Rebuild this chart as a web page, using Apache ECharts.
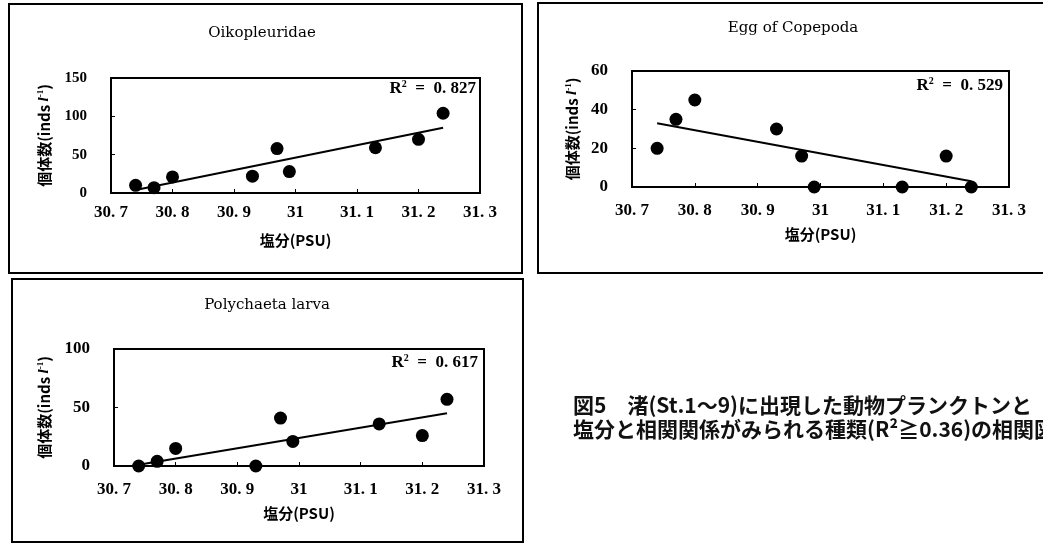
<!DOCTYPE html>
<html>
<head>
<meta charset="utf-8">
<script src="https://cdn.jsdelivr.net/npm/echarts@6/dist/echarts.min.js"></script>
<style>
  html, body { margin: 0; padding: 0; background: #fff; }
  #chart { width: 1043px; height: 545px; }
</style>
</head>
<body>
<div id="chart"></div>
<script>
// Salinity at stations St.1–9 and abundance of each taxon (inds/l)
const salinity = [30.74, 30.77, 30.80, 30.93, 30.97, 30.99, 31.13, 31.20, 31.24];
const oikopleuridae = [10, 7, 21, 22, 58, 28, 59, 70, 104];
const eggCopepoda = [20, 35, 45, 30, 16, 0, 0, 16, 0];
const polychaetaLarva = [0, 4, 15, 0, 41, 21, 36, 26, 57];

// Regression line end points
const trendX = [30.74, 31.24];
const oikoTrend = [4, 85];
const eggTrend = [33, 3];
const polyTrend = [1, 45];

const xTickLabels = ['30. 7', '30. 8', '30. 9', '31', '31. 1', '31. 2', '31. 3'];
const panelTitles = ['Oikopleuridae', 'Egg of Copepoda', 'Polychaeta larva'];
const r2Labels = ['0. 827', '0. 529', '0. 617'];
const yMax = [150, 60, 100];
const yStep = [50, 20, 50];

const SERIF = "'Liberation Serif', 'DejaVu Serif', serif";
const CJK = "'Noto Sans CJK JP', 'Noto Sans', sans-serif";

function pairs(xs, ys) { return xs.map((x, i) => [x, ys[i]]); }

const grids = [
  { left: 111, top: 78, width: 369, height: 115 },
  { left: 632, top: 71, width: 377, height: 116 },
  { left: 114, top: 349, width: 370, height: 117 }
];
const yNameGap = [58, 51, 61];
const yLabelSize = [15, 17, 17];

const xAxes = grids.map((g, i) => ({
  gridIndex: i, type: 'value', min: 30.7, max: 31.3, interval: 0.1,
  axisLine: { lineStyle: { color: '#000', width: 2 } },
  axisTick: { inside: true, length: 4, lineStyle: { color: '#000', width: 1 } },
  splitLine: { show: false },
  axisLabel: {
    margin: i === 0 ? 11 : 15, color: '#000', fontFamily: SERIF, fontWeight: 'bold', fontSize: 17,
    formatter: v => xTickLabels[Math.round((v - 30.7) / 0.1)]
  },
  name: '塩分(PSU)', nameLocation: 'middle', nameGap: 40,
  nameTextStyle: { color: '#000', fontFamily: CJK, fontWeight: 'bold', fontSize: 15 }
}));

const yAxes = grids.map((g, i) => ({
  gridIndex: i, type: 'value', min: 0, max: yMax[i], interval: yStep[i],
  axisLine: { lineStyle: { color: '#000', width: 2 } },
  axisTick: { inside: true, length: 4, lineStyle: { color: '#000', width: 1 } },
  splitLine: { show: false },
  axisLabel: { margin: 24, color: '#000', fontFamily: SERIF, fontWeight: 'bold', fontSize: yLabelSize[i] },
  name: '個体数(inds {i|l}{sup|-1})', nameLocation: 'middle', nameGap: yNameGap[i],
  nameTextStyle: {
    color: '#000', fontFamily: CJK, fontWeight: 'bold', fontSize: 15,
    rich: {
      i: { fontFamily: SERIF, fontStyle: 'italic', fontWeight: 'bold', fontSize: 15, color: '#000' },
      sup: { fontFamily: SERIF, fontWeight: 'bold', fontSize: 9, color: '#000', verticalAlign: 'top', padding: [0, 0, 8, 0] }
    }
  }
}));

const datasets = [oikopleuridae, eggCopepoda, polychaetaLarva];
const trends = [oikoTrend, eggTrend, polyTrend];
const series = [];
datasets.forEach((vals, i) => {
  series.push({
    type: 'scatter', xAxisIndex: i, yAxisIndex: i, symbolSize: 13,
    itemStyle: { color: '#000', opacity: 1 }, data: pairs(salinity, vals)
  });
  series.push({
    type: 'line', xAxisIndex: i, yAxisIndex: i, showSymbol: false,
    lineStyle: { color: '#000', width: 2 }, data: pairs(trendX, trends[i])
  });
});

// Panel frames, titles, R² labels and figure caption
const frames = [
  { x: 9, y: 4, width: 513, height: 269 },
  { x: 538, y: 3, width: 520, height: 270 },
  { x: 12, y: 279, width: 511, height: 263 }
];
const titlePos = [[262, 33], [793, 28], [267, 305]];
const r2Pos = [[476, 89], [1003, 86], [478, 363]];

const graphic = [];
frames.forEach(f => graphic.push({
  type: 'rect', shape: f, silent: true,
  style: { fill: 'none', stroke: '#000', lineWidth: 2 }
}));
panelTitles.forEach((t, i) => graphic.push({
  type: 'text', x: titlePos[i][0], y: titlePos[i][1],
  style: { text: t, fill: '#000', fontFamily: "'DejaVu Serif', serif", fontSize: 15, align: 'center', verticalAlign: 'middle' }
}));
r2Labels.forEach((t, i) => graphic.push({
  type: 'text', x: r2Pos[i][0], y: r2Pos[i][1],
  style: {
    text: 'R{sup|2}  =  ' + t, fill: '#000', fontFamily: SERIF, fontWeight: 'bold', fontSize: 17,
    align: 'right', verticalAlign: 'middle',
    rich: { sup: { fontFamily: SERIF, fontWeight: 'bold', fontSize: 10, fill: '#000', padding: [0, 0, 9, 0] } }
  }
}));
graphic.push({
  type: 'text', x: 573, y: 405,
  style: { text: '図5　渚(St.1～9)に出現した動物プランクトンと', fill: '#111', fontFamily: CJK, fontWeight: 'bold', fontSize: 21, align: 'left', verticalAlign: 'middle' }
});
graphic.push({
  type: 'text', x: 573, y: 429,
  style: { text: '塩分と相関関係がみられる種類(R²≧0.36)の相関図', fill: '#111', fontFamily: CJK, fontWeight: 'bold', fontSize: 21, align: 'left', verticalAlign: 'middle' }
});

const chart = echarts.init(document.getElementById('chart'), null, { renderer: 'canvas' });
chart.setOption({
  animation: false,
  backgroundColor: '#fff',
  grid: grids.map(g => Object.assign({ show: true, borderColor: '#000', borderWidth: 2, backgroundColor: 'transparent' }, g)),
  xAxis: xAxes,
  yAxis: yAxes,
  series: series,
  graphic: graphic
});
</script>
</body>
</html>
